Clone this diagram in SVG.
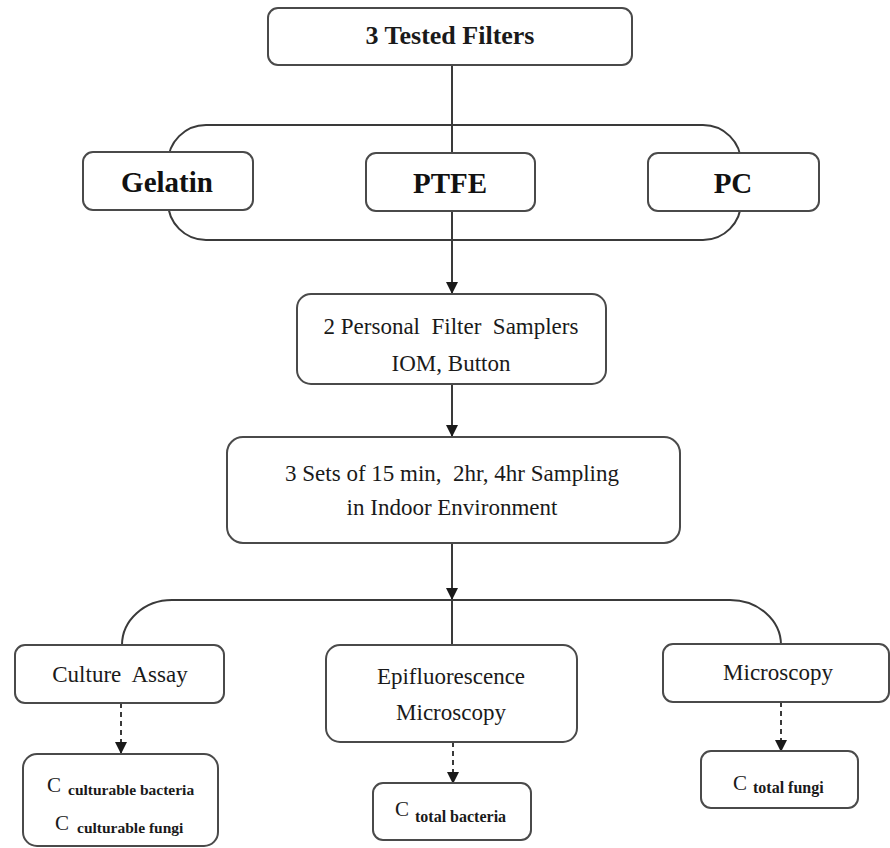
<svg xmlns="http://www.w3.org/2000/svg" width="890" height="848" viewBox="0 0 890 848">
<style>
.box{fill:#fff;stroke:#4a4a4a;stroke-width:2}
.ln{fill:none;stroke:#3a3a3a;stroke-width:2}
.dash{fill:none;stroke:#3a3a3a;stroke-width:2;stroke-dasharray:5 4}
.t{font-family:"Liberation Serif","Times New Roman",serif;font-size:23px;fill:#1a1a1a;text-anchor:middle}
.tb{font-family:"Liberation Serif","Times New Roman",serif;font-size:29px;font-weight:bold;fill:#111;text-anchor:middle}
.tt{font-family:"Liberation Serif","Times New Roman",serif;font-size:26px;font-weight:bold;fill:#1a1a1a;text-anchor:middle}
.c{font-family:"Liberation Serif","Times New Roman",serif;font-size:21px;fill:#1a1a1a}
.sub{font-size:15.5px;font-weight:bold}
.sub2{font-size:16px;font-weight:bold}
</style>
<defs>
<marker id="ah" markerWidth="12" markerHeight="12" refX="11" refY="6" orient="auto" markerUnits="userSpaceOnUse">
<path d="M0,0 L12,6 L0,12 Z" fill="#1a1a1a"/>
</marker>
</defs>
<g id="connectors">
<rect class="ln" x="168" y="125" width="573" height="115" rx="38" ry="38"/>
<line class="ln" x1="452" y1="65" x2="452" y2="152"/>
<line class="ln" x1="452" y1="211" x2="452" y2="293" marker-end="url(#ah)"/>
<line class="ln" x1="452" y1="384" x2="452" y2="436" marker-end="url(#ah)"/>
<line class="ln" x1="452" y1="543" x2="452" y2="599" marker-end="url(#ah)"/>
<path class="ln" d="M122,645 A50,45 0 0 1 172,600 L730,600 A51,45 0 0 1 781,645"/>
<line class="ln" x1="452" y1="600" x2="452" y2="645"/>
<line class="dash" x1="121" y1="703" x2="121" y2="753" marker-end="url(#ah)"/>
<line class="dash" x1="453" y1="742" x2="453" y2="783" marker-end="url(#ah)"/>
<line class="dash" x1="781" y1="702" x2="781" y2="751" marker-end="url(#ah)"/>
</g>
<g id="tested-filters">
<rect class="box" x="268" y="8" width="364" height="57" rx="10"/>
<text class="tt" x="450" y="44">3 Tested Filters</text>
</g>
<g id="gelatin">
<rect class="box" x="83" y="152" width="170" height="58" rx="10"/>
<text class="tb" x="167" y="192">Gelatin</text>
</g>
<g id="ptfe">
<rect class="box" x="366" y="153" width="169" height="58" rx="10"/>
<text class="tb" x="450" y="193">PTFE</text>
</g>
<g id="pc">
<rect class="box" x="648" y="153" width="171" height="58" rx="10"/>
<text class="tb" x="733" y="193">PC</text>
</g>
<g id="samplers">
<rect class="box" x="297" y="294" width="309" height="90" rx="14"/>
<text class="t" x="451" y="334" xml:space="preserve">2 Personal  Filter  Samplers</text>
<text class="t" x="451" y="371">IOM, Button</text>
</g>
<g id="sampling">
<rect class="box" x="227" y="437" width="453" height="106" rx="16"/>
<text class="t" x="452" y="481" xml:space="preserve">3 Sets of 15 min,  2hr, 4hr Sampling</text>
<text class="t" x="452" y="515">in Indoor Environment</text>
</g>
<g id="culture-assay">
<rect class="box" x="15" y="645" width="209" height="58" rx="10"/>
<text class="t" x="120" y="682" xml:space="preserve">Culture  Assay</text>
</g>
<g id="epifluorescence">
<rect class="box" x="326" y="645" width="251" height="97" rx="14"/>
<text class="t" x="451" y="684">Epifluorescence</text>
<text class="t" x="451" y="720">Microscopy</text>
</g>
<g id="microscopy">
<rect class="box" x="663" y="644" width="226" height="58" rx="10"/>
<text class="t" x="778" y="680">Microscopy</text>
</g>
<g id="culturable">
<rect class="box" x="23" y="754" width="195" height="92" rx="14"/>
<text class="c" x="47" y="792">C<tspan class="sub" dx="7" dy="3">culturable bacteria</tspan></text>
<text class="c" x="55" y="830">C<tspan class="sub" dx="8" dy="3">culturable fungi</tspan></text>
</g>
<g id="total-bacteria">
<rect class="box" x="373" y="783" width="158" height="57" rx="10"/>
<text class="c" x="395" y="816">C<tspan class="sub2" dx="6" dy="6">total bacteria</tspan></text>
</g>
<g id="total-fungi">
<rect class="box" x="701" y="751" width="157" height="57" rx="10"/>
<text class="c" x="733" y="790">C<tspan class="sub2" dx="6" dy="3">total fungi</tspan></text>
</g>
</svg>
